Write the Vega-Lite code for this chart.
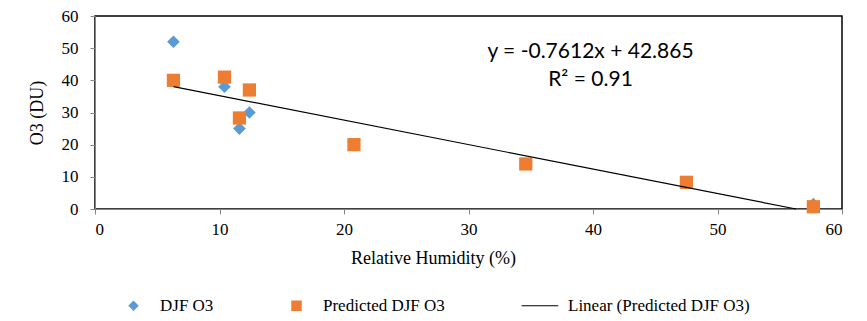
{
  "$schema": "https://vega.github.io/schema/vega-lite/v6.json",
  "width": 747,
  "height": 193,
  "autosize": {"type": "none"},
  "padding": {"left": 95, "top": 16, "right": 25, "bottom": 112},
  "background": "white",
  "config": {
    "view": {"stroke": "black", "strokeWidth": 1.5},
    "axis": {
      "grid": false,
      "domainColor": "#868686",
      "tickColor": "#868686",
      "tickSize": 5,
      "labelFont": "Liberation Serif",
      "labelFontSize": 17,
      "labelColor": "black",
      "titleFont": "Liberation Serif",
      "titleFontSize": 18,
      "titleFontWeight": "normal",
      "titleColor": "black"
    },
    "legend": {
      "labelFont": "Liberation Serif",
      "labelFontSize": 17,
      "labelColor": "black",
      "labelLimit": 0
    }
  },
  "datasets": {
    "obs": [
      {"rh": 6.3, "o3": 52, "series": "DJF O3"},
      {"rh": 10.4, "o3": 38, "series": "DJF O3"},
      {"rh": 11.6, "o3": 25, "series": "DJF O3"},
      {"rh": 12.4, "o3": 30, "series": "DJF O3"},
      {"rh": 57.7, "o3": 1.5, "series": "DJF O3"}
    ],
    "pred": [
      {"rh": 6.3, "o3": 40, "series": "Predicted DJF O3"},
      {"rh": 10.4, "o3": 41, "series": "Predicted DJF O3"},
      {"rh": 12.4, "o3": 37, "series": "Predicted DJF O3"},
      {"rh": 11.6, "o3": 28.3, "series": "Predicted DJF O3"},
      {"rh": 20.8, "o3": 20, "series": "Predicted DJF O3"},
      {"rh": 34.6, "o3": 14, "series": "Predicted DJF O3"},
      {"rh": 47.5, "o3": 8.3, "series": "Predicted DJF O3"},
      {"rh": 57.7, "o3": 0.7, "series": "Predicted DJF O3"}
    ],
    "trend": [
      {"rh": 6.3, "o3": 38.07},
      {"rh": 56.31, "o3": 0}
    ],
    "eq": [
      {"rh": 39.8, "o3": 46.9, "label": "y = -0.7612x + 42.865"},
      {"rh": 39.8, "o3": 38.2, "label": "R² = 0.91"}
    ]
  },
  "encoding": {
    "x": {
      "field": "rh", "type": "quantitative",
      "scale": {"domain": [0, 60], "nice": false},
      "axis": {"values": [0, 10, 20, 30, 40, 50, 60], "title": "Relative Humidity (%)", "labelPadding": 7, "titlePadding": 12, "titleX": 338}
    },
    "y": {
      "field": "o3", "type": "quantitative",
      "scale": {"domain": [0, 60], "nice": false},
      "axis": {"values": [0, 10, 20, 30, 40, 50, 60], "title": "O3 (DU)", "labelPadding": 12, "titlePadding": 15}
    }
  },
  "layer": [
    {
      "data": {"name": "obs"},
      "mark": {"type": "point", "filled": true, "opacity": 1, "size": 160},
      "encoding": {
        "color": {
          "field": "series", "type": "nominal",
          "scale": {"domain": ["DJF O3", "Predicted DJF O3", "Linear (Predicted DJF O3)"], "range": ["#5B9BD5", "#ED7D31", "#000000"]},
          "legend": {
            "title": null,
            "orient": "none",
            "direction": "horizontal",
            "legendX": 30,
            "legendY": 281,
            "columnPadding": 74,
            "labelOffset": 18,
            "symbolSize": 110,
            "symbolOpacity": 1,
            "encode": {
              "symbols": {
                "update": {
                  "stroke": {"signal": "datum.value === 'Linear (Predicted DJF O3)' ? 'black' : 'transparent'"},
                  "strokeWidth": {"value": 1.2}
                }
              }
            }
          }
        },
        "shape": {
          "field": "series", "type": "nominal",
          "scale": {"domain": ["DJF O3", "Predicted DJF O3", "Linear (Predicted DJF O3)"], "range": ["diamond", "square", "M-3.8,0L3.2,0"]},
          "legend": null
        }
      }
    },
    {
      "data": {"name": "pred"},
      "mark": {"type": "point", "filled": true, "opacity": 1, "size": 175},
      "encoding": {
        "color": {"field": "series", "type": "nominal"},
        "shape": {"field": "series", "type": "nominal"}
      }
    },
    {
      "data": {"name": "trend"},
      "mark": {"type": "line", "color": "black", "strokeWidth": 1.2},
      "encoding": {}
    },
    {
      "data": {"name": "eq"},
      "mark": {"type": "text", "font": "Lato", "fontSize": 21, "align": "center", "baseline": "alphabetic", "color": "black"},
      "encoding": {"text": {"field": "label"}}
    }
  ]
}
